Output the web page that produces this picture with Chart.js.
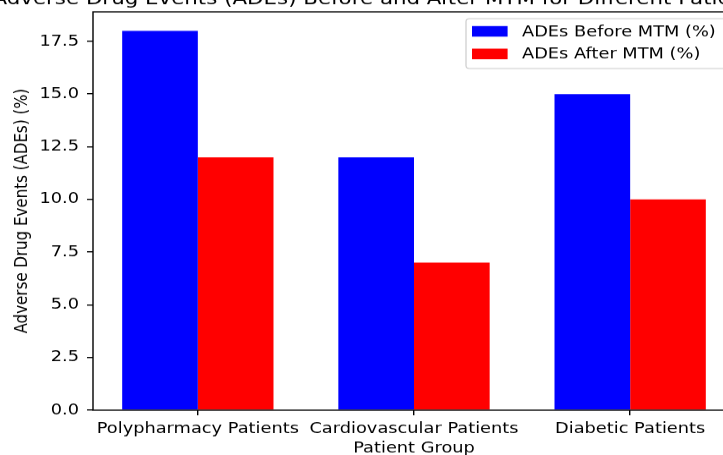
<!DOCTYPE html>
<html>
<head>
<meta charset="utf-8">
<script src="https://cdn.jsdelivr.net/npm/chart.js@4.4.1/dist/chart.umd.min.js"></script>
<style>
  html, body { margin: 0; padding: 0; overflow: hidden; background: #fff; }
  canvas { display: block; }
</style>
</head>
<body>
<!-- the reference is squashed vertically, so draw tall and shrink with css -->
<canvas id="chart" width="860" height="538" style="width:860px;height:455px"></canvas>
<script>
const groups = ['Polypharmacy Patients', 'Cardiovascular Patients', 'Diabetic Patients']
const adesBefore = [18, 12, 15]
const adesAfter = [12, 7, 10]
const yTicks = [0, 2.5, 5, 7.5, 10, 12.5, 15, 17.5]

const titleText = 'Adverse Drug Events (ADEs) Before and After MTM for Different Patient Groups'
const xTitle = 'Patient Group'
const yTitle = 'Adverse Drug Events (ADEs) (%)'
const font = 'DejaVu Sans'
const fs = 17.8

// axes box, titles and legend drawn the matplotlib way
const decor = {
  id: 'decor',
  afterDraw(chart) {
    let { ctx, chartArea: a } = chart
    let cx = (a.left + a.right) / 2
    ctx.save()
    ctx.strokeStyle = '#000'
    ctx.lineWidth = 1.4
    ctx.strokeRect(a.left, a.top, a.right - a.left, a.bottom - a.top)

    ctx.fillStyle = '#000'
    ctx.textAlign = 'center'
    ctx.textBaseline = 'alphabetic'
    ctx.font = `${fs * 1.2}px "${font}"`
    ctx.fillText(titleText, cx, 5)

    ctx.font = `${fs}px "${font}"`
    ctx.fillText(xTitle, cx, 535)

    ctx.save()
    ctx.translate(27, (a.top + a.bottom) / 2)
    ctx.rotate(-Math.PI / 2)
    ctx.fillText(yTitle, 0, 0)
    ctx.restore()

    // legend, upper right
    let x0 = 466, y0 = 22, w = 261, h = 59
    ctx.beginPath()
    ctx.roundRect(x0, y0, w, h, 3.5)
    ctx.fillStyle = 'rgba(255,255,255,0.8)'
    ctx.fill()
    ctx.strokeStyle = '#cccccc'
    ctx.lineWidth = 1.2
    ctx.stroke()
    ctx.textAlign = 'left'
    ctx.textBaseline = 'middle'
    chart.data.datasets.forEach((ds, i) => {
      let cy = 37 + i * 26.7
      ctx.fillStyle = ds.backgroundColor
      ctx.fillRect(472, cy - 6.2, 35.6, 12.5)
      ctx.fillStyle = '#000'
      ctx.fillText(ds.label, 522, cy + 1)
    })
    ctx.restore()
  }
}

new Chart(document.getElementById('chart'), {
  type: 'bar',
  data: {
    datasets: [
      {
        label: 'ADEs Before MTM (%)',
        data: adesBefore.map((y, x) => ({ x, y })),
        backgroundColor: '#0000ff'
      },
      {
        label: 'ADEs After MTM (%)',
        data: adesAfter.map((y, x) => ({ x, y })),
        backgroundColor: '#ff0000'
      }
    ]
  },
  options: {
    responsive: false,
    animation: false,
    layout: { padding: { left: 0, top: 14, right: 125, bottom: 0 } },
    datasets: { bar: { categoryPercentage: 0.7, barPercentage: 1.0 } },
    plugins: { legend: { display: false }, title: { display: false }, tooltip: { enabled: false } },
    scales: {
      x: {
        type: 'linear',
        min: -0.485,
        max: 2.485,
        offset: false,
        afterFit: (s) => { s.height = 53; s.paddingLeft = 0; s.paddingRight = 0 },
        afterBuildTicks: (s) => { s.ticks = groups.map((g, i) => ({ value: i })) },
        grid: { offset: false, drawOnChartArea: false, tickLength: 6, lineWidth: 1.4, color: '#000' },
        border: { display: false },
        ticks: {
          color: '#000',
          padding: 6,
          maxRotation: 0,
          autoSkip: false,
          font: { family: font, size: fs },
          callback: (v, i) => groups[i]
        }
      },
      y: {
        min: 0,
        max: 18.9,
        afterFit: (s) => { s.width = 93; s.paddingTop = 0; s.paddingBottom = 0 },
        afterBuildTicks: (s) => { s.ticks = yTicks.map((v) => ({ value: v })) },
        grid: { drawOnChartArea: false, tickLength: 6, lineWidth: 1.4, color: '#000' },
        border: { display: false },
        ticks: {
          color: '#000',
          padding: 8,
          font: { family: font, size: fs },
          callback: (v) => v.toFixed(1)
        }
      }
    }
  },
  plugins: [decor]
})
</script>
</body>
</html>
